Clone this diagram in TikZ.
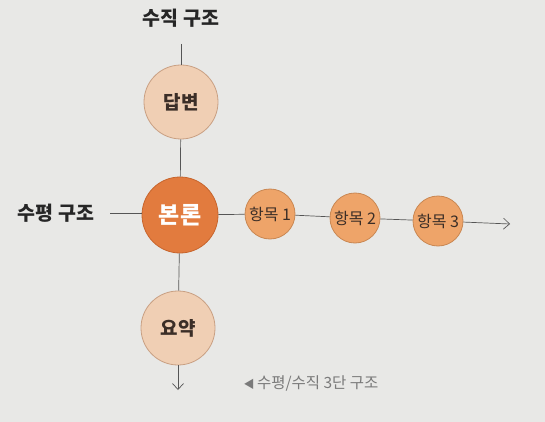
\documentclass[tikz,border=0pt]{standalone}
\usepackage{fontspec}
\newfontfamily\kr{Noto Sans CJK KR}
\usetikzlibrary{arrows.meta}
\definecolor{bg}{HTML}{E8E8E6}
\definecolor{lightfill}{HTML}{F0CFB4}
\definecolor{lightedge}{HTML}{C9A083}
\definecolor{mainfill}{HTML}{E27B3E}
\definecolor{mainedge}{HTML}{C7652D}
\definecolor{itemfill}{HTML}{EEA469}
\definecolor{itemedge}{HTML}{C98752}
\definecolor{ink}{HTML}{3B2E27}
\definecolor{linec}{HTML}{555555}
\definecolor{capc}{HTML}{7A7A7A}
\tikzset{
  bigc/.style={circle, draw=lightedge, line width=0.8pt, fill=lightfill, minimum size=74pt, inner sep=0pt, text=ink, font=\kr\bfseries\fontsize{19}{19}\selectfont},
  mainc/.style={circle, draw=mainedge, line width=0.8pt, fill=mainfill, minimum size=76pt, inner sep=0pt, text=white, font=\kr\bfseries\fontsize{23}{23}\selectfont},
  itemc/.style={circle, draw=itemedge, line width=0.8pt, fill=itemfill, minimum size=50pt, inner sep=0pt, text=ink, font=\kr\fontsize{16}{16}\selectfont},
  lbl/.style={text=black!85, font=\kr\bfseries\fontsize{19.5}{19.5}\selectfont},
  conn/.style={draw=linec, line width=0.7pt},
  arr/.style={conn, -{Straight Barb[length=6pt,width=11pt]}}
}
\begin{document}
\begin{tikzpicture}[x=1pt,y=-1pt]
\fill[bg] (0,0) rectangle (545,422);
\useasboundingbox (0,0) rectangle (545,422);
\node[lbl] (vt) at (181,18) {수직 구조};
\coordinate (vtop) at (181,44);
\node[bigc] (dab) at (181,102) {답변};
\node[mainc] (bon) at (180,215) {본론};
\node[bigc] (yo) at (178,328) {요약};
\coordinate (vend) at (178,390);
\node[lbl] (ht) at (56,213) {수평 구조};
\coordinate (hleft) at (110,213);
\node[itemc] (i1) at (270,214) {항목 1};
\node[itemc] (i2) at (355,218) {항목 2};
\node[itemc] (i3) at (438,221) {항목 3};
\coordinate (hend) at (510,224);
\node[text=capc, font=\kr\fontsize{15.5}{15.5}\selectfont, anchor=west] (cap) at (240,383) {\fontsize{11}{11}\selectfont◀\ \fontsize{15.5}{15.5}\selectfont 수평/수직 3단 구조};
\draw[conn] (vtop) -- (dab);
\draw[conn] (dab) -- (bon);
\draw[conn] (bon) -- (yo);
\draw[arr] (yo) -- (vend);
\draw[conn] (hleft) -- (bon.west |- hleft);
\draw[conn] (bon) -- (i1);
\draw[conn] (i1) -- (i2);
\draw[conn] (i2) -- (i3);
\draw[arr] (i3) -- (hend);
\end{tikzpicture}
\end{document}
